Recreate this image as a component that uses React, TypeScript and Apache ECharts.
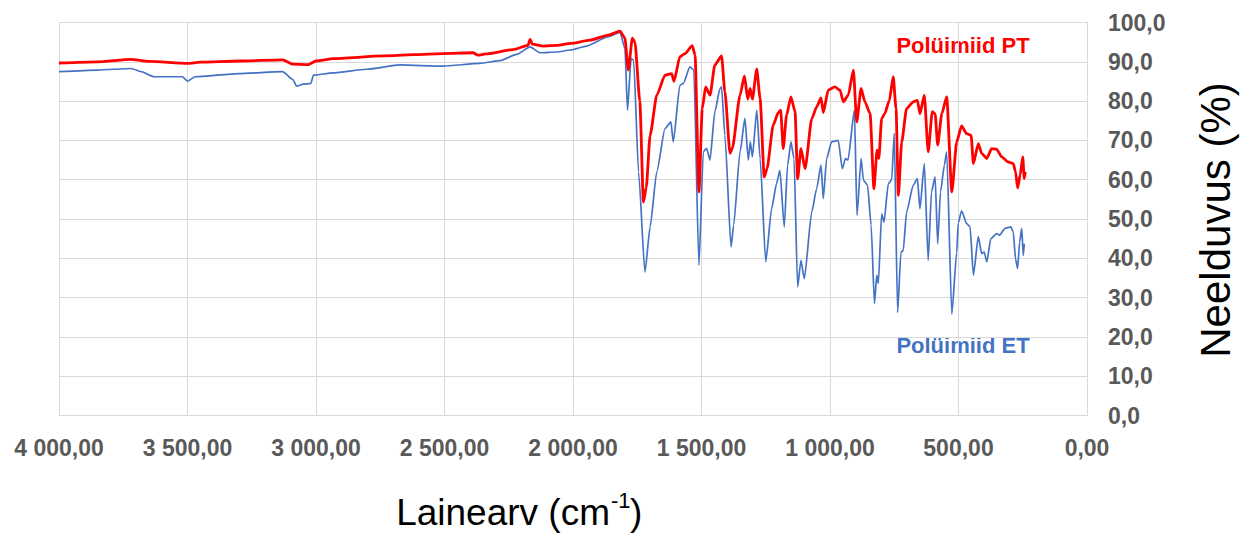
import React, { useEffect, useRef } from "react";
import * as echarts from "echarts";

// Wavenumber (cm-1) vs absorbance (%) — Polüimiid PT (red)
const ptSpectrum: [number, number][] = [
  [4000, 89.7], [3850, 90.0], [3720, 90.6], [3650, 90.1], [3500, 89.6], [3450, 89.9],
  [3300, 90.2], [3130, 90.5], [3090, 89.4], [3030, 89.3], [3000, 90.2], [2934, 90.8],
  [2739, 91.5], [2506, 92.1], [2389, 92.3], [2370, 91.7], [2340, 92.0], [2234, 93.1],
  [2175, 94.2], [2167, 95.7], [2158, 94.5], [2116, 94.0], [2063, 94.2], [2009, 94.7],
  [1934, 95.5], [1863, 96.8], [1817, 97.8], [1798, 96.0], [1785, 87.9], [1769, 96.0],
  [1759, 95.0], [1740, 80.0], [1726, 54.3], [1715, 58.0], [1700, 71.3], [1674, 81.5],
  [1642, 86.6], [1616, 87.0], [1607, 85.0], [1584, 91.3], [1564, 92.1], [1536, 94.1],
  [1525, 91.7], [1510, 56.9], [1497, 78.1], [1484, 83.6], [1467, 81.5], [1448, 89.2],
  [1422, 91.5], [1409, 82.4], [1389, 66.7], [1380, 68.0], [1350, 81.5], [1333, 86.4],
  [1320, 80.5], [1311, 83.2], [1302, 80.5], [1285, 88.1], [1272, 80.7], [1256, 60.7],
  [1245, 62.8], [1221, 73.9], [1201, 77.1], [1192, 77.7], [1182, 67.9], [1169, 76.4],
  [1152, 81.1], [1136, 77.3], [1126, 60.2], [1113, 67.9], [1097, 62.8], [1071, 75.5],
  [1052, 78.5], [1035, 80.8], [1026, 77.1], [1007, 82.8], [981, 83.6], [961, 82.8],
  [948, 79.8], [929, 81.5], [909, 87.9], [896, 74.7], [879, 83.2], [864, 79.8],
  [844, 76.8], [829, 57.7], [817, 67.5], [810, 65.4], [799, 75.6], [787, 76.8],
  [769, 80.2], [754, 86.2], [743, 78.1], [734, 56.0], [721, 69.6], [702, 78.1],
  [676, 79.8], [660, 80.2], [650, 76.8], [633, 81.5], [618, 67.1], [602, 77.3],
  [591, 76.8], [581, 68.8], [565, 76.8], [546, 81.1], [526, 56.9], [507, 69.6],
  [488, 73.7], [468, 71.7], [451, 71.3], [442, 64.1], [423, 69.2], [410, 66.7],
  [390, 65.4], [371, 67.9], [352, 67.8], [332, 65.8], [306, 64.5], [287, 64.1],
  [278, 62.0], [270, 57.9], [260, 61.2], [250, 65.8], [244, 60.3], [240, 62.0],
];

// Polüimiid ET (blue)
const etSpectrum: [number, number][] = [
  [4000, 87.5], [3850, 87.9], [3720, 88.3], [3680, 87.5], [3630, 86.2], [3520, 86.2],
  [3500, 85.1], [3470, 86.2], [3300, 87.0], [3130, 87.5], [3090, 85.5], [3075, 83.8],
  [3050, 84.3], [3020, 84.5], [3010, 86.6], [2934, 87.2], [2803, 88.1], [2673, 89.2],
  [2506, 88.9], [2362, 89.6], [2284, 90.3], [2219, 91.9], [2167, 93.8], [2128, 92.3],
  [2063, 92.5], [2009, 93.0], [1947, 94.0], [1863, 96.4], [1817, 97.5], [1798, 93.4],
  [1788, 77.7], [1774, 90.8], [1764, 90.4], [1745, 62.0], [1720, 36.5], [1700, 48.0],
  [1674, 62.0], [1642, 73.0], [1619, 74.7], [1610, 69.6], [1584, 84.0], [1571, 84.5],
  [1545, 88.7], [1530, 87.9], [1510, 38.2], [1493, 67.1], [1480, 68.0], [1467, 65.0],
  [1448, 77.3], [1428, 83.2], [1422, 83.6], [1409, 71.3], [1385, 42.9], [1375, 48.4],
  [1350, 67.1], [1331, 75.6], [1318, 65.0], [1310, 69.6], [1302, 65.8], [1285, 77.7],
  [1272, 65.4], [1250, 39.1], [1227, 52.7], [1208, 59.0], [1195, 62.4], [1178, 48.0],
  [1165, 63.7], [1152, 69.6], [1140, 65.4], [1126, 32.7], [1113, 39.5], [1100, 34.8],
  [1071, 51.8], [1052, 57.7], [1035, 63.7], [1026, 55.2], [1013, 65.4], [994, 69.6],
  [968, 70.0], [952, 62.8], [940, 65.4], [930, 65.0], [905, 77.7], [895, 50.9],
  [879, 65.4], [870, 59.9], [854, 58.6], [840, 48.4], [827, 28.5], [818, 35.7],
  [812, 33.6], [799, 51.3], [790, 49.2], [773, 59.0], [760, 60.0], [750, 71.8],
  [737, 26.2], [724, 41.5], [715, 42.0], [702, 51.8], [676, 58.6], [660, 60.3],
  [650, 52.6], [633, 64.1], [618, 39.5], [605, 56.9], [591, 60.7], [581, 43.7],
  [570, 56.9], [555, 63.7], [546, 67.1], [526, 25.8], [507, 41.5], [501, 49.0],
  [488, 52.1], [468, 48.8], [455, 48.0], [442, 35.7], [423, 45.5], [410, 41.2],
  [400, 41.6], [390, 39.1], [374, 45.0], [352, 46.3], [340, 45.9], [319, 47.6],
  [296, 48.0], [287, 46.7], [278, 39.8], [270, 37.4], [262, 44.2], [254, 47.6],
  [248, 40.7], [244, 43.7],
];

const seriesNames = ["Polüimiid PT", "Polüimiid ET"];
const xTitleMain = "Lainearv (cm";
const xTitleSup = "-1";
const xTitleEnd = ")";
const yTitle = "Neelduvus (%)";

const fmtX = (v: number) => {
  const [i, d] = v.toFixed(2).split(".");
  return i.replace(/\B(?=(\d{3})+(?!\d))/g, " ") + "," + d;
};
const fmtY = (v: number) => v.toFixed(1).replace(".", ",");

export default function App() {
  const ref = useRef<HTMLDivElement>(null);
  useEffect(() => {
    if (!ref.current) return;
    const chart = echarts.init(ref.current, undefined, { renderer: "svg" });
    const font = "'Liberation Sans', Arial, sans-serif";
    chart.setOption({
      animation: false,
      backgroundColor: "#ffffff",
      grid: { left: 59, right: 155, top: 22.5, bottom: 118.5, containLabel: false },
      xAxis: {
        type: "value",
        inverse: true,
        min: 0,
        max: 4000,
        interval: 500,
        axisLine: { show: true, lineStyle: { color: "#d9d9d9", width: 1 } },
        axisTick: { show: false },
        splitLine: { show: true, lineStyle: { color: "#d9d9d9", width: 1 } },
        axisLabel: {
          formatter: fmtX,
          color: "#595959",
          fontWeight: "bold",
          fontSize: 23,
          fontFamily: font,
          margin: 21,
        },
      },
      yAxis: {
        type: "value",
        position: "right",
        min: 0,
        max: 100,
        interval: 10,
        axisLine: { show: true, lineStyle: { color: "#d9d9d9", width: 1 } },
        axisTick: { show: false },
        splitLine: { show: true, lineStyle: { color: "#d9d9d9", width: 1 } },
        axisLabel: {
          formatter: fmtY,
          color: "#595959",
          fontWeight: "bold",
          fontSize: 23,
          fontFamily: font,
          margin: 21,
        },
      },
      series: [
        {
          name: seriesNames[0],
          type: "line",
          data: ptSpectrum,
          showSymbol: false,
          symbol: "none",
          smooth: 0.2,
          smoothMonotone: "x",
          lineStyle: { color: "#ff0000", width: 2.8 },
          z: 3,
        },
        {
          name: seriesNames[1],
          type: "line",
          data: etSpectrum,
          showSymbol: false,
          symbol: "none",
          smooth: 0.2,
          smoothMonotone: "x",
          lineStyle: { color: "#4472c4", width: 1.7 },
          z: 2,
        },
      ],
      graphic: [
        {
          type: "text",
          x: 963,
          y: 45,
          style: {
            text: seriesNames[0],
            fill: "#ff0000",
            font: `bold 22px ${font}`,
            align: "center",
            verticalAlign: "middle",
          },
        },
        {
          type: "text",
          x: 963,
          y: 345,
          style: {
            text: seriesNames[1],
            fill: "#4472c4",
            font: `bold 22px ${font}`,
            align: "center",
            verticalAlign: "middle",
          },
        },
        {
          type: "text",
          x: 610,
          y: 512,
          style: {
            text: xTitleMain,
            fill: "#000000",
            font: `37px ${font}`,
            align: "right",
            verticalAlign: "middle",
          },
        },
        {
          type: "text",
          x: 611,
          y: 500,
          style: {
            text: xTitleSup,
            fill: "#000000",
            font: `22px ${font}`,
            align: "left",
            verticalAlign: "middle",
          },
        },
        {
          type: "text",
          x: 630,
          y: 512,
          style: {
            text: xTitleEnd,
            fill: "#000000",
            font: `37px ${font}`,
            align: "left",
            verticalAlign: "middle",
          },
        },
        {
          type: "text",
          x: 1215,
          y: 220,
          rotation: Math.PI / 2,
          style: {
            text: yTitle,
            fill: "#000000",
            font: `42px ${font}`,
            align: "center",
            verticalAlign: "middle",
          },
        },
      ],
    });
    return () => chart.dispose();
  }, []);
  return (
    <div
      ref={ref}
      style={{ position: "fixed", left: 0, top: 0, width: 1242, height: 534 }}
    />
  );
}
